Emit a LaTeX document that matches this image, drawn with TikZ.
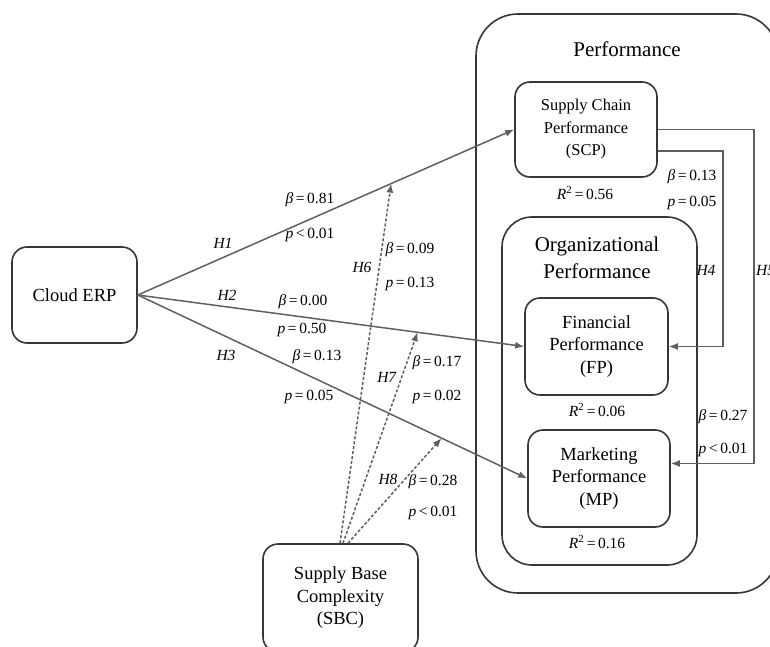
\documentclass[tikz,border=0pt]{standalone}
\usepackage{fontspec}
\setmainfont{Liberation Serif}
\usetikzlibrary{arrows.meta}

\definecolor{linegray}{RGB}{95,95,95}
\definecolor{boxgray}{RGB}{55,55,55}

\tikzset{
  box/.style={draw=boxgray, line width=1.6pt, rounded corners=15pt, align=center,
    inner sep=0pt, font=\fontsize{18.5}{22.5}\selectfont},
  group/.style={draw=boxgray, line width=1.6pt},
  title/.style={align=center, inner sep=0pt, font=\fontsize{21}{27}\selectfont},
  path/.style={draw=linegray, line width=1.5pt, ->},
  dpath/.style={path, dash pattern=on 3pt off 2pt},
  lab/.style={inner sep=0pt, font=\fontsize{15.5}{18}\selectfont},
  >={Latex[length=9pt,width=7pt]}
}

\begin{document}
\begin{tikzpicture}[x=1pt, y=-1pt]
\useasboundingbox (0,0) rectangle (770,647);
\clip (0,0) rectangle (770,647);

% outer groups
\draw[group, rounded corners=42pt] (476,14) rectangle (778,593);
\draw[group, rounded corners=30pt] (502,217) rectangle (697,565);
\node[title] (perf) at (627,49) {Performance};
\node[title] (org) at (597,258) {Organizational\\ Performance};

% constructs
\node[box, minimum width=125pt, minimum height=96pt] (erp) at (74.5,295) {Cloud ERP};
\node[box, minimum width=142pt, minimum height=95pt, font=\fontsize{16.5}{22.5}\selectfont] (scp) at (586,129.5) {Supply Chain\\ Performance\\ (SCP)};
\node[box, minimum width=143pt, minimum height=97pt] (fp) at (596.5,346.5) {Financial\\ Performance\\ (FP)};
\node[box, minimum width=142pt, minimum height=97pt] (mp) at (599,478.5) {Marketing\\ Performance\\ (MP)};
\node[box, minimum width=155pt, minimum height=108pt] (sbc) at (340.5,598) {Supply Base\\ Complexity\\ (SBC)};

% direct paths
\draw[path] (erp.east) -- (scp.west) coordinate[pos=0.673] (m1);
\draw[path] (erp.east) -- (fp.west) coordinate[pos=0.724] (m2);
\draw[path] (erp.east) -- (mp.west) coordinate[pos=0.78] (m3);
\draw[path] ([yshift=-21.5pt]scp.east) -- ++(65,0) |- (fp.east);
\draw[path] (scp.east) -- ++(96,0) |- ([yshift=15pt]mp.east);

% moderation
\draw[dpath] ([xshift=-0.5pt]sbc.north) -- (m1);
\draw[dpath] ([xshift=2.5pt]sbc.north) -- (m2);
\draw[dpath] ([xshift=7.5pt]sbc.north) -- (m3);

% coefficients
\node[lab] (h1) at (223,243) {\textit{H1}};
\node[lab] (b1) at (310,200) {\textit{β}\,=\,0.81};
\node[lab] (p1) at (310,235) {\textit{p}\,<\,0.01};
\node[lab] (h2) at (227,295) {\textit{H2}};
\node[lab] (b2) at (303,302) {\textit{β}\,=\,0.00};
\node[lab] (p2) at (302,330) {\textit{p}\,=\,0.50};
\node[lab] (h3) at (226,355) {\textit{H3}};
\node[lab] (b3) at (317,357) {\textit{β}\,=\,0.13};
\node[lab] (p3) at (309,397) {\textit{p}\,=\,0.05};
\node[lab] (h6) at (362,267) {\textit{H6}};
\node[lab] (b6) at (410,250) {\textit{β}\,=\,0.09};
\node[lab] (p6) at (410,284) {\textit{p}\,=\,0.13};
\node[lab] (h7) at (387,377) {\textit{H7}};
\node[lab] (b7) at (437,363) {\textit{β}\,=\,0.17};
\node[lab] (p7) at (437,397) {\textit{p}\,=\,0.02};
\node[lab] (h8) at (388,479) {\textit{H8}};
\node[lab] (b8) at (433,482) {\textit{β}\,=\,0.28};
\node[lab] (p8) at (433,513) {\textit{p}\,<\,0.01};
\node[lab] (h4) at (706,270) {\textit{H4}};
\node[lab] (b4) at (692,177) {\textit{β}\,=\,0.13};
\node[lab] (p4) at (692,203) {\textit{p}\,=\,0.05};
\node[lab, anchor=west] (h5) at (756,270) {\textit{H5}};
\node[lab] (b5) at (723,417) {\textit{β}\,=\,0.27};
\node[lab] (p5) at (723,450) {\textit{p}\,<\,0.01};

% explained variance
\node[lab] (r1) at (585,193) {\textit{R}\textsuperscript{2}\,=\,0.56};
\node[lab] (r2) at (597,410) {\textit{R}\textsuperscript{2}\,=\,0.06};
\node[lab] (r3) at (597,542) {\textit{R}\textsuperscript{2}\,=\,0.16};
\end{tikzpicture}
\end{document}
